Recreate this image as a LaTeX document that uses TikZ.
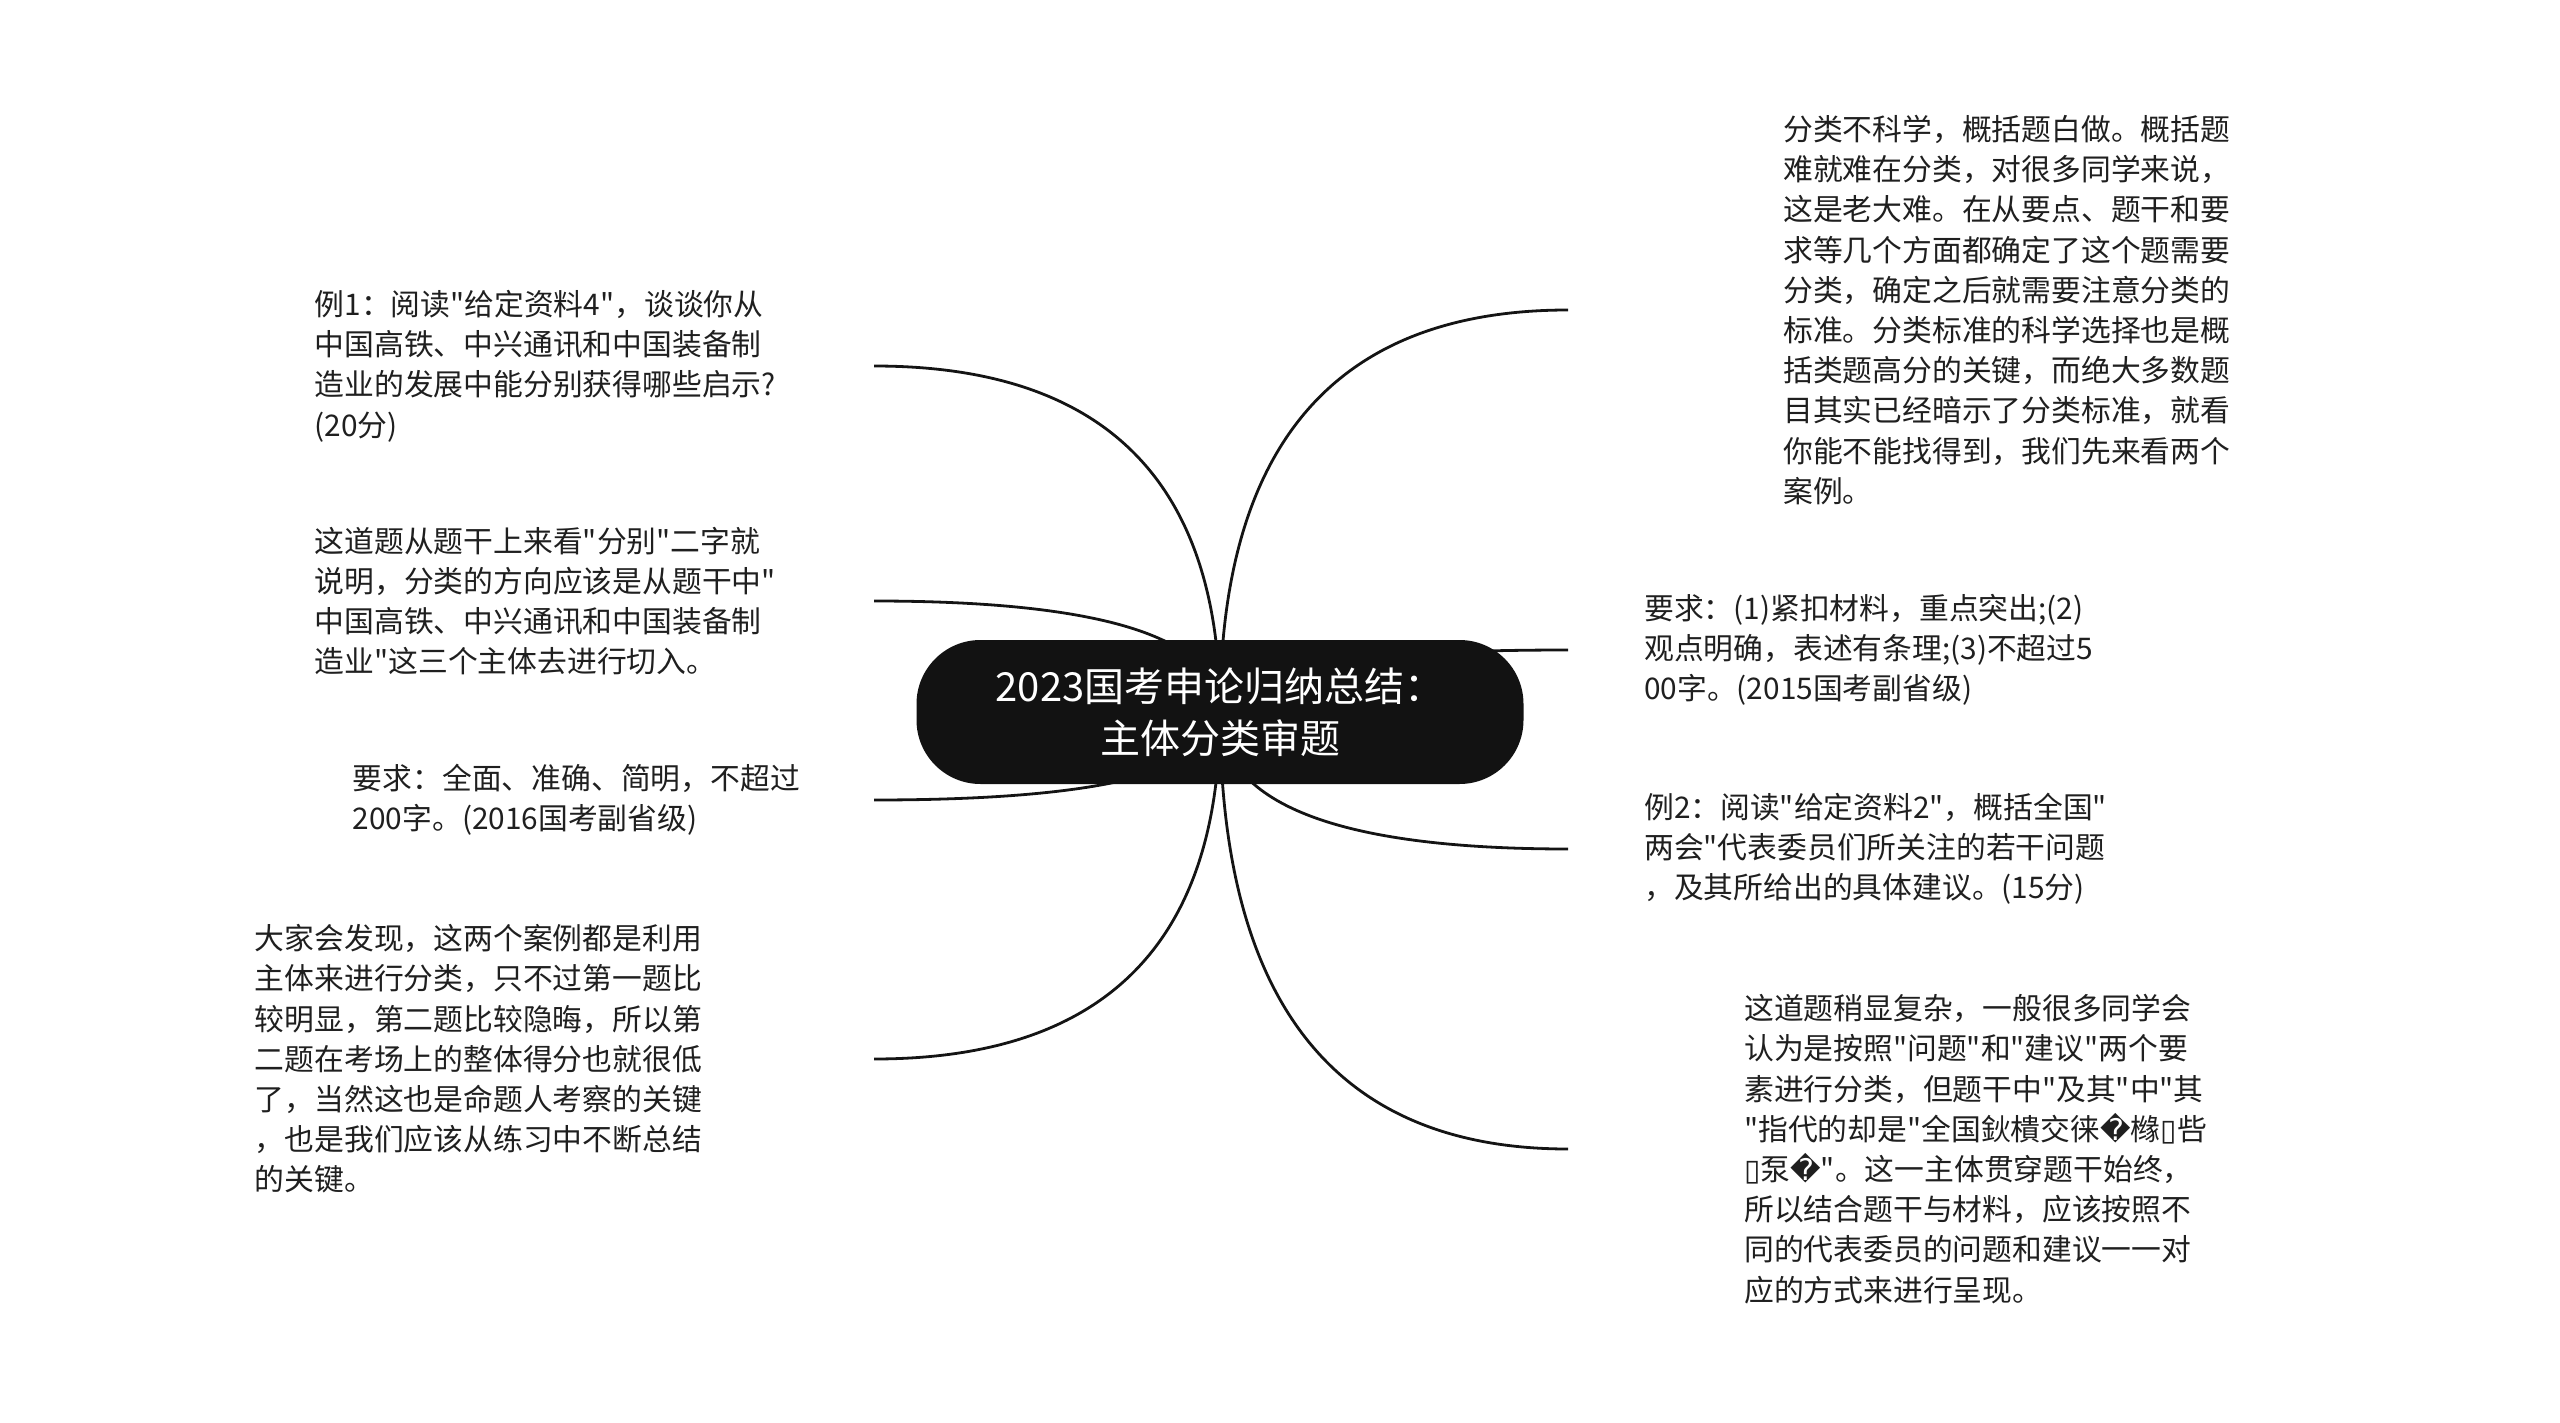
\documentclass[tikz,border=0pt]{standalone}
\usepackage{fontspec}
\setmainfont{Noto Sans CJK SC}[Ligatures=TeXOff]
\newfontfamily\symfont{DejaVu Sans}
\usetikzlibrary{calc,positioning,backgrounds}

\begin{document}
\begin{tikzpicture}[x=1pt, y=-1pt]
  \tikzstyle{topic} = [rounded corners=64pt, fill=black!93, text=white, minimum width=607pt,
    minimum height=144pt, align=center, font=\fontsize{40pt}{52pt}\selectfont]
  \tikzstyle{leaf} = [align=left, inner sep=0pt, text=black!88, font=\fontsize{29.8pt}{40.2pt}\selectfont]
  \tikzstyle{branch} = [draw=black!92, line width=2.8pt]
  \useasboundingbox (0,0) rectangle (2560,1423);

  \node (ROOT) [topic] at (1220,712) {2023国考申论归纳总结：\\主体分类审题};

  \coordinate (r1) at (1568,310);
  \coordinate (r2) at (1568,650);
  \coordinate (r3) at (1568,849);
  \coordinate (r4) at (1568,1149);
  \coordinate (l1) at (874,366);
  \coordinate (l2) at (874,601);
  \coordinate (l3) at (874,800);
  \coordinate (l4) at (874,1059);

  \node (R1) [leaf, right=215pt of r1] {分类不科学，概括题白做。概括题\\
    难就难在分类，对很多同学来说，\\
    这是老大难。在从要点、题干和要\\
    求等几个方面都确定了这个题需要\\
    分类，确定之后就需要注意分类的\\
    标准。分类标准的科学选择也是概\\
    括类题高分的关键，而绝大多数题\\
    目其实已经暗示了分类标准，就看\\
    你能不能找得到，我们先来看两个\\
    案例。};
  \node (R2) [leaf, right=76pt of r2] {要求：(1)紧扣材料，重点突出;(2)\\
    观点明确，表述有条理;(3)不超过5\\
    00字。(2015国考副省级)};
  \node (R3) [leaf, right=76pt of r3] {例2：阅读"给定资料2"，概括全国"\\
    两会"代表委员们所关注的若干问题\\
    ，及其所给出的具体建议。(15分)};
  \node (R4) [leaf, right=176pt of r4] {这道题稍显复杂，一般很多同学会\\
    认为是按照"问题"和"建议"两个要\\
    素进行分类，但题干中"及其"中"其\\
    "指代的却是"全国鈥樻交徕{\symfont �}橼{\symfont ▯}呰\\
    {\symfont ▯}泵{\symfont �}"。这一主体贯穿题干始终，\\
    所以结合题干与材料，应该按照不\\
    同的代表委员的问题和建议一一对\\
    应的方式来进行呈现。};

  \node (L1) [leaf, left=98pt of l1] {例1：阅读"给定资料4"，谈谈你从\\
    中国高铁、中兴通讯和中国装备制\\
    造业的发展中能分别获得哪些启示?\\
    (20分)};
  \node (L2) [leaf, left=98pt of l2] {这道题从题干上来看"分别"二字就\\
    说明，分类的方向应该是从题干中"\\
    中国高铁、中兴通讯和中国装备制\\
    造业"这三个主体去进行切入。};
  \node (L3) [leaf, left=74pt of l3] {要求：全面、准确、简明，不超过\\
    200字。(2016国考副省级)};
  \node (L4) [leaf, left=172pt of l4] {大家会发现，这两个案例都是利用\\
    主体来进行分类，只不过第一题比\\
    较明显，第二题比较隐晦，所以第\\
    二题在考场上的整体得分也就很低\\
    了，当然这也是命题人考察的关键\\
    ，也是我们应该从练习中不断总结\\
    的关键。};

  \begin{scope}[on background layer]
    \foreach \e in {r1,r2,r3,r4,l1,l2,l3,l4}
      \draw[branch] (ROOT.center) .. controls ($(ROOT.center)!2/3!(ROOT.center |- \e)$)
        and ($(\e)!2/3!(ROOT.center |- \e)$) .. (\e);
  \end{scope}
\end{tikzpicture}
\end{document}
